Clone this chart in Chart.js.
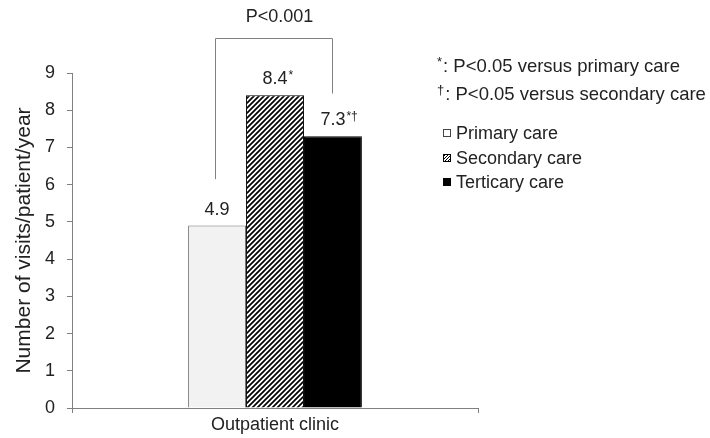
<!DOCTYPE html>
<html lang="en">
<head>
<meta charset="UTF-8">
<title>Outpatient visits per patient per year</title>
<style>
  html, body { margin: 0; padding: 0; background: #fff; }
</style>
</head>
<body>
<canvas id="myChart" width="710" height="438"></canvas>

<script src="https://cdn.jsdelivr.net/npm/chart.js"></script>
<script>
// data
const categories = ['Outpatient clinic'];
const seriesNames = ['Primary care', 'Secondary care', 'Terticary care'];
const primaryVals = [4.9];
const secondaryVals = [8.4];
const tertiaryVals = [7.3];
const valueMarks = ['', '*', '*\u2020'];
const yTickVals = [0, 1, 2, 3, 4, 5, 6, 7, 8, 9];
const yTitle = 'Number of visits/patient/year';
const footnotes = [['*', ': P<0.05 versus primary care'], ['\u2020', ': P<0.05 versus secondary care']];
const pText = 'P<0.001';
// bracket ends in data units (left end, right end, top)
const bracketLevels = [6.15, 8.45, 9.95];

const FONT = '"Liberation Sans", Arial, sans-serif';
const TXT = '#222';
const AXIS = '#808080';

const ctx = document.getElementById('myChart').getContext('2d');

// diagonal hatch like the original "/" fill
function makeHatch(size, lw) {
    const c = document.createElement('canvas');
    c.width = size; c.height = size;
    const g = c.getContext('2d');
    g.fillStyle = '#fff';
    g.fillRect(0, 0, size, size);
    g.strokeStyle = '#000';
    g.lineWidth = lw;
    g.beginPath();
    g.moveTo(-1, size + 1); g.lineTo(size + 1, -1);
    g.moveTo(-1, 1); g.lineTo(1, -1);
    g.moveTo(size - 1, size + 1); g.lineTo(size + 1, size - 1);
    g.stroke();
    return ctx.createPattern(c, 'repeat');
}
const hatch = makeHatch(5, 1.7);
const hatchSmall = makeHatch(3, 1);

const fills = ['#f2f2f2', hatch, '#000'];
const borders = ['#6d6d6d', '#000', '#000'];

const extras = {
    id: 'extras',
    afterDatasetsDraw(chart) {
        const c = chart.ctx;
        const ys = chart.scales.y;
        c.save();
        c.fillStyle = TXT;

        // value labels with superscript marks
        chart.data.datasets.forEach((ds, i) => {
            const bar = chart.getDatasetMeta(i).data[0];
            const txt = ds.data[0].toFixed(1);
            c.font = '18px ' + FONT;
            c.textAlign = 'center';
            c.textBaseline = 'alphabetic';
            const base = bar.y - 11;
            c.fillText(txt, bar.x, base);
            if (valueMarks[i]) {
                const w = c.measureText(txt).width;
                c.font = '12px ' + FONT;
                c.textAlign = 'left';
                c.fillText(valueMarks[i], bar.x + w / 2 + 1, base - 5);
            }
        });

        // significance bracket
        const x1 = chart.getDatasetMeta(0).data[0].x - 2;
        const x2 = chart.getDatasetMeta(2).data[0].x - 1;
        const yl = ys.getPixelForValue(bracketLevels[0]);
        const yr = ys.getPixelForValue(bracketLevels[1]);
        const yt = Math.round(ys.getPixelForValue(bracketLevels[2])) + 0.5;
        c.strokeStyle = AXIS;
        c.lineWidth = 1;
        c.beginPath();
        c.moveTo(Math.round(x1) + 0.5, yl);
        c.lineTo(Math.round(x1) + 0.5, yt);
        c.lineTo(Math.round(x2) + 0.5, yt);
        c.lineTo(Math.round(x2) + 0.5, yr);
        c.stroke();
        c.font = '18px ' + FONT;
        c.textAlign = 'center';
        c.textBaseline = 'middle';
        c.fillText(pText, (x1 + x2) / 2 + 6, yt - 21);

        // footnotes
        let fy = [67, 95];
        footnotes.forEach((f, i) => {
            c.textAlign = 'left';
            c.textBaseline = 'middle';
            c.font = '13px ' + FONT;
            c.fillText(f[0], 437, fy[i] - 5);
            const mw = c.measureText(f[0]).width;
            c.font = '18.5px ' + FONT;
            c.fillText(f[1], 437 + mw + 1, fy[i]);
        });

        // legend
        const ly = [133, 158, 182];
        const boxes = ['#fff', hatchSmall, '#000'];
        chart.data.datasets.forEach((ds, i) => {
            const bx = 443.5, by = ly[i] - 3.5;
            c.fillStyle = boxes[i];
            c.fillRect(bx, by, 7, 7);
            c.strokeStyle = i === 0 ? '#444' : '#000';
            c.lineWidth = 1;
            c.strokeRect(bx, by, 7, 7);
            c.fillStyle = TXT;
            c.font = '18px ' + FONT;
            c.textAlign = 'left';
            c.textBaseline = 'middle';
            c.fillText(ds.label, 456, ly[i] + 1);
        });
        c.restore();
    }
};

const myChart = new Chart(ctx, {
    type: 'bar',
    data: {
        labels: categories,
        datasets: [
            { label: seriesNames[0], data: primaryVals, backgroundColor: fills[0], borderColor: borders[0], borderWidth: 1 },
            { label: seriesNames[1], data: secondaryVals, backgroundColor: fills[1], borderColor: borders[1], borderWidth: 1 },
            { label: seriesNames[2], data: tertiaryVals, backgroundColor: fills[2], borderColor: borders[2], borderWidth: 1 }
        ]
    },
    options: {
        responsive: false,
        animation: false,
        layout: { padding: { left: 0, top: 73, right: 232, bottom: 0 } },
        datasets: { bar: { categoryPercentage: 0.428, barPercentage: 1.0 } },
        plugins: {
            legend: { display: false },
            tooltip: { enabled: false }
        },
        scales: {
            x: {
                grid: { display: true, drawOnChartArea: false, tickLength: 5, color: AXIS, offset: true },
                border: { color: AXIS },
                ticks: { color: TXT, font: { family: FONT, size: 18 }, padding: 1 },
                afterFit: s => { s.height = 30; }
            },
            y: {
                min: 0,
                max: 9,
                afterBuildTicks: s => { s.ticks = yTickVals.map(v => ({ value: v })); },
                ticks: { color: TXT, font: { family: FONT, size: 18 }, padding: 12 },
                grid: { drawOnChartArea: false, tickLength: 5, color: AXIS },
                border: { color: AXIS },
                title: {
                    display: true,
                    text: yTitle,
                    color: TXT,
                    font: { family: FONT, size: 21 },
                    padding: { top: 12, bottom: 0 }
                },
                afterFit: s => { s.width = 72; }
            }
        }
    },
    plugins: [extras]
});
</script>
</body>
</html>
